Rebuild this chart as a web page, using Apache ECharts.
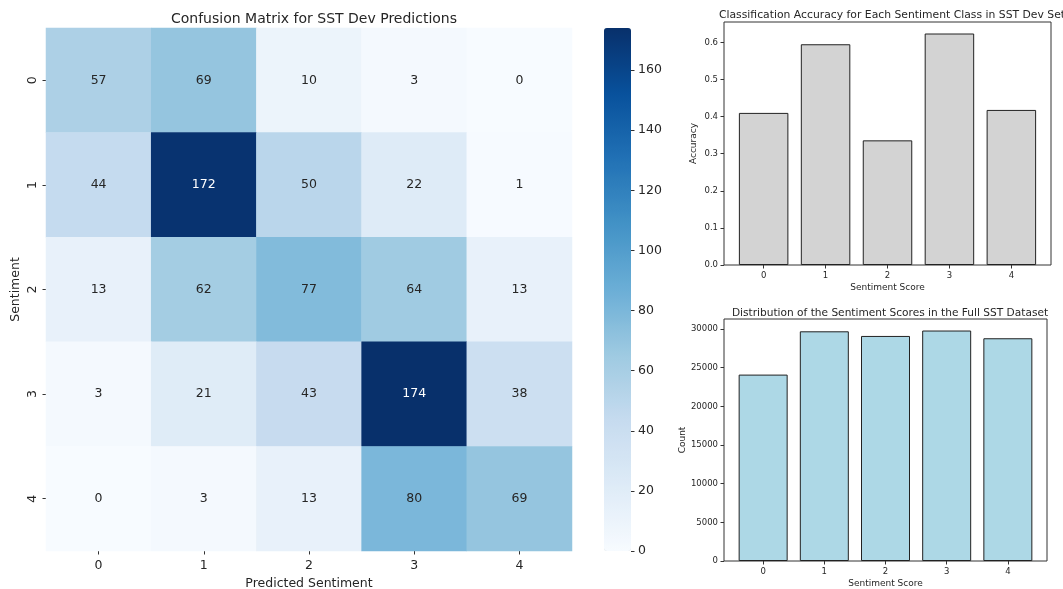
<!DOCTYPE html>
<html>
<head>
<meta charset="utf-8">
<script src="https://cdn.jsdelivr.net/npm/echarts@6/dist/echarts.min.js"></script>
<style>
  html, body { margin: 0; padding: 0; background: #fff; }
  #main { width: 1063px; height: 589px; }
</style>
</head>
<body>
<div id="main"></div>
<script>
// confusion matrix rows = true sentiment, cols = predicted sentiment
const classes = ["0", "1", "2", "3", "4"];
const confusion = [
  [57, 69, 10, 3, 0],
  [44, 172, 50, 22, 1],
  [13, 62, 77, 64, 13],
  [3, 21, 43, 174, 38],
  [0, 3, 13, 80, 69],
];

// per-class accuracy on the dev set
const scores = [0, 1, 2, 3, 4];
const accuracy = [0.41, 0.595, 0.336, 0.624, 0.418];

// sentiment distribution in the full dataset
const counts = [24100, 29700, 29100, 29800, 28800];

const blues = ["#f7fbff", "#deebf7", "#c6dbef", "#9ecae1", "#6baed6",
               "#4292c6", "#2171b5", "#08519c", "#08306b"];

const FONT = "DejaVu Sans";
const TXT = "#262626";

let cells = [];
confusion.forEach((row, i) => {
  row.forEach((v, j) => {
    cells.push({
      value: [j, i, v],
      label: { color: v > 120 ? "#ffffff" : TXT },
    });
  });
});

const chart = echarts.init(document.getElementById("main"));

// shared look for the two small bar charts
function smallX(gridIndex) {
  return {
    type: "value", gridIndex: gridIndex, min: -0.64, max: 4.64,
    name: "Sentiment Score", nameLocation: "middle", nameGap: 18,
    nameTextStyle: { fontFamily: FONT, fontSize: 9, color: TXT },
    axisLine: { show: false, onZero: false },
    splitLine: { show: false },
    axisTick: { show: true, length: 3.5, customValues: scores, lineStyle: { color: "#333" } },
    axisLabel: { customValues: scores, fontFamily: FONT, fontSize: 8.5, color: TXT, margin: 6 },
  };
}

function smallY(gridIndex, max, step, name, gap, fmt) {
  return {
    type: "value", gridIndex: gridIndex, min: 0, max: max, interval: step,
    name: name, nameLocation: "middle", nameGap: gap,
    nameTextStyle: { fontFamily: FONT, fontSize: 9, color: TXT },
    axisLine: { show: false, onZero: false },
    splitLine: { show: false },
    axisTick: { show: true, length: 3.5, lineStyle: { color: "#333" } },
    axisLabel: {
      showMaxLabel: false, fontFamily: FONT, fontSize: 8.5, color: TXT, margin: 6,
      formatter: fmt,
    },
  };
}

chart.setOption({
  animation: false,
  title: [
    {
      text: "Confusion Matrix for SST Dev Predictions",
      left: 309, top: 7, textAlign: "center",
      textStyle: { fontFamily: FONT, fontSize: 14, fontWeight: "normal", color: TXT },
    },
    {
      text: "Classification Accuracy for Each Sentiment Class in SST Dev Set",
      left: 887, top: 5, textAlign: "center",
      textStyle: { fontFamily: FONT, fontSize: 10.8, fontWeight: "normal", color: TXT },
    },
    {
      text: "Distribution of the Sentiment Scores in the Full SST Dataset",
      left: 885, top: 303, textAlign: "center",
      textStyle: { fontFamily: FONT, fontSize: 10.6, fontWeight: "normal", color: TXT },
    },
  ],
  grid: [
    { left: 46, top: 28, width: 526, height: 523, outerBoundsMode: "none" },
    { left: 604, top: 28, width: 27, height: 523, outerBoundsMode: "none" },
    { left: 724, top: 22, width: 327, height: 243, outerBoundsMode: "none",
      show: true, borderColor: "#333", borderWidth: 1, backgroundColor: "transparent" },
    { left: 724, top: 319, width: 323, height: 242, outerBoundsMode: "none",
      show: true, borderColor: "#333", borderWidth: 1, backgroundColor: "transparent" },
  ],
  xAxis: [
    {
      type: "category", gridIndex: 0, data: classes,
      name: "Predicted Sentiment", nameLocation: "middle", nameGap: 25,
      nameTextStyle: { fontFamily: FONT, fontSize: 12.5, color: TXT },
      axisLine: { show: false, onZero: false },
      axisTick: { show: true, alignWithLabel: true, length: 3.5, lineStyle: { color: "#333" } },
      axisLabel: { fontFamily: FONT, fontSize: 12.5, color: TXT, margin: 8 },
      splitLine: { show: false },
    },
    { type: "value", gridIndex: 1, show: false, min: 0, max: 1 },
    smallX(2),
    smallX(3),
  ],
  yAxis: [
    {
      type: "category", gridIndex: 0, data: classes, inverse: true,
      name: "Sentiment", nameLocation: "middle", nameGap: 24, nameRotate: 90,
      nameTextStyle: { fontFamily: FONT, fontSize: 12.5, color: TXT },
      axisLine: { show: false, onZero: false },
      axisTick: { show: true, alignWithLabel: true, length: 3.5, lineStyle: { color: "#333" } },
      axisLabel: { fontFamily: FONT, fontSize: 12.5, color: TXT, rotate: 90, margin: 7 },
      splitLine: { show: false },
    },
    {
      type: "value", gridIndex: 1, position: "right", min: 0, max: 174, interval: 20,
      axisLine: { show: false, onZero: false },
      splitLine: { show: false },
      axisTick: { show: true, length: 3.5, lineStyle: { color: "#333" } },
      axisLabel: { showMaxLabel: false, fontFamily: FONT, fontSize: 12.5, color: TXT, margin: 7 },
    },
    smallY(2, 0.655, 0.1, "Accuracy", 26, (v) => v.toFixed(1)),
    smallY(3, 31290, 5000, "Count", 37, (v) => String(v)),
  ],
  visualMap: {
    type: "continuous", seriesIndex: 0, min: 0, max: 174,
    left: 604, top: 28, itemWidth: 27, itemHeight: 523, padding: 0,
    calculable: false, text: null, showLabel: false,
    textStyle: { color: "transparent" },
    inRange: { color: blues },
  },
  series: [
    {
      type: "heatmap", xAxisIndex: 0, yAxisIndex: 0, data: cells,
      itemStyle: { borderWidth: 0 },
      label: { show: true, fontFamily: FONT, fontSize: 12.5, formatter: (p) => p.value[2] },
      emphasis: { disabled: true },
    },
    {
      type: "bar", xAxisIndex: 2, yAxisIndex: 2, barWidth: 49.5,
      data: scores.map((s, i) => [s, accuracy[i]]),
      itemStyle: { color: "#d3d3d3", borderColor: "#222", borderWidth: 1 },
    },
    {
      type: "bar", xAxisIndex: 3, yAxisIndex: 3, barWidth: 49,
      data: scores.map((s, i) => [s, counts[i]]),
      itemStyle: { color: "#add8e6", borderColor: "#222", borderWidth: 1 },
    },
  ],
});
</script>
</body>
</html>
